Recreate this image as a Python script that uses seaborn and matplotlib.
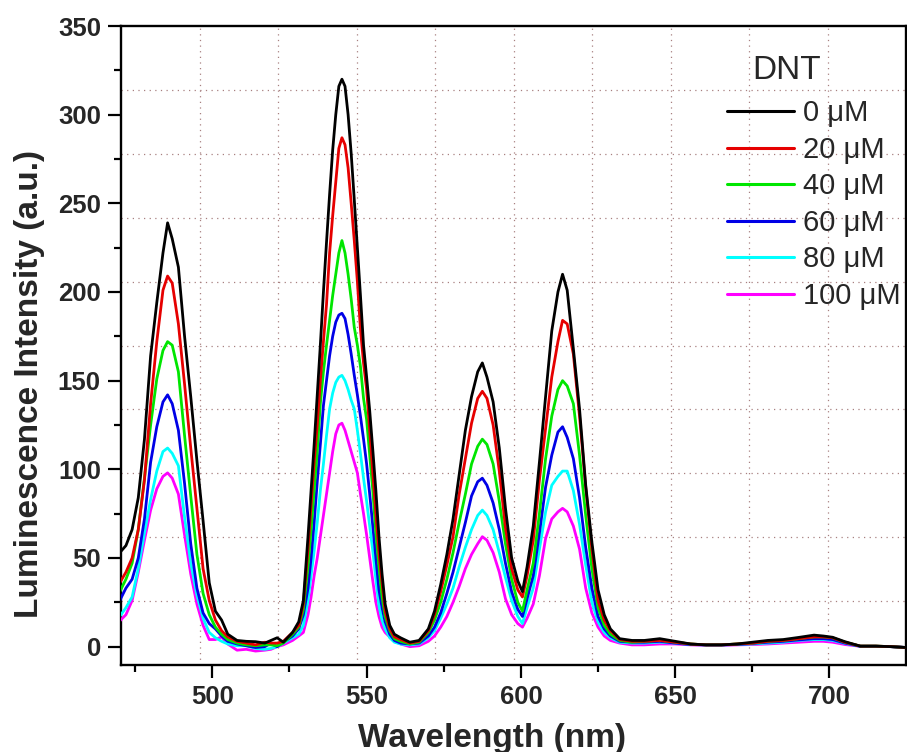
import numpy as np
import pandas as pd
import matplotlib
matplotlib.use("Agg")
import matplotlib.pyplot as plt
from matplotlib.ticker import MultipleLocator
import seaborn as sns

# ---------------- data ----------------
wavelength = [470, 472, 474, 476, 478, 480, 482, 484, 485.5, 487, 489, 491, 493, 495, 497, 499, 501, 503, 505, 508,
              511, 514, 517, 519, 521, 523, 526, 528,
              529.5, 531, 532, 533, 534, 535, 536, 537, 538, 539, 540, 541, 542, 543, 544, 545, 546, 547, 548, 549,
              550, 551, 552, 553, 554, 555, 556,
              557.5, 559, 561, 564, 567,
              570, 572, 574, 576, 578, 580, 582, 584, 586, 587.5, 589, 591, 593, 595, 597, 599,
              600.5, 602, 604, 606, 608, 610, 612, 613.5, 615, 617, 619, 621, 623, 625, 627, 629,
              632, 636, 640, 645, 650, 655, 660, 665, 670, 675, 680, 685, 690, 695, 698, 701, 705, 710, 715, 720, 725]

dnt_0 = [53, 57, 66, 84, 117, 164, 194, 222, 239, 230, 214, 175, 141, 105, 71, 36, 20, 15, 7, 3.5,
         3, 2.8, 2, 3.5, 5, 2.5, 8, 14,
         26, 62, 88, 114, 142, 170, 200, 228, 255, 280, 300, 316, 320, 316, 300, 278, 252, 225, 198, 170,
         152, 133, 111, 88, 62, 41, 24,
         12, 7, 5, 2.5, 3.5,
         10, 20, 35, 52, 72, 97, 122, 141, 155, 160, 152, 138, 112, 78, 50, 37,
         31, 45, 68, 104, 141, 178, 200, 210, 201, 168, 134, 91, 59, 32, 18, 10,
         4.5, 3.5, 3.5, 4.5, 3, 1.5, 1, 1, 1.5, 2.5, 3.5, 4, 5.2, 6.5, 6, 5.3, 2.8, 0.3, 0.3, 0, -0.5]

dnt_20 = [36, 42, 50, 66, 94, 137, 172, 201, 209, 205, 182, 148, 112, 78, 44, 26, 15, 9, 5.5, 3,
          2, 1, 2.5, 2, 2, 3, 8, 12,
          24, 55, 80, 104, 125, 150, 172, 193, 222, 243, 262, 281, 287, 283, 270, 250, 229, 206, 179, 160,
          145, 122, 98, 75, 53, 36, 20,
          10, 5.5, 4, 2, 3,
          9, 18, 31, 46, 62, 86, 106, 126, 140, 144, 140, 125, 99, 67, 44, 32,
          28, 40, 60, 94, 123, 152, 172, 184, 182, 165, 130, 90, 55, 26, 15, 9,
          4, 3, 3, 3.5, 2.5, 1.5, 1, 1, 1.5, 2, 3, 3.5, 4.5, 5.5, 5.5, 5, 2.5, 0.3, 0.3, 0, -0.5]

dnt_40 = [31, 38, 47, 66, 95, 125, 151, 167, 172, 170, 155, 119, 85, 52, 30, 18, 11, 7, 4, 2,
          1, 0.5, 1, 1, 0.5, 2, 7, 11,
          21, 45, 66, 88, 110, 137, 155, 170, 184, 198, 210, 222, 229, 222, 210, 196, 180, 170, 158, 140,
          128, 108, 88, 64, 45, 28, 17,
          9, 4.5, 3, 1.5, 2.5,
          8, 15, 25, 38, 53, 70, 86, 103, 113, 117, 114, 103, 82, 58, 38, 25,
          20, 32, 47, 75, 106, 130, 145, 150, 147, 137, 108, 74, 44, 22, 12, 7,
          3.5, 2.5, 3, 3.5, 2.5, 1.5, 1, 1, 1.5, 2, 3, 3.5, 4.5, 5.5, 5.5, 5, 2.5, 0.3, 0.3, 0, -0.5]

dnt_60 = [26, 33, 38, 50, 72, 104, 124, 138, 142, 137, 122, 92, 58, 33, 19, 13, 10, 6, 3, 1.5,
          0.5, -0.5, 0, 2, 0, 2.5, 6, 10,
          18, 33, 50, 70, 93, 114, 136, 150, 164, 175, 183, 187, 188, 185, 176, 165, 153, 142, 130, 117,
          103, 86, 68, 50, 32, 22, 14,
          7, 3.5, 2, 1.5, 2,
          6, 11, 19, 30, 42, 56, 70, 85, 93, 95, 91, 81, 66, 47, 31, 21,
          17, 27, 40, 64, 90, 108, 121, 124, 118, 106, 84, 56, 33, 17, 10, 6,
          3, 2.5, 2.5, 3, 2, 1.2, 1, 1, 1.2, 1.8, 2.5, 3, 3.8, 4.5, 4.5, 4, 2, 0.2, 0.2, 0, -0.5]

dnt_80 = [17, 22, 28, 44, 64, 83, 99, 110, 112, 109, 102, 73, 47, 29, 16, 8, 5, 3, 1.5, 0.5,
          0.5, -1, -1.5, -1, 0, 2, 5, 7,
          12, 26, 40, 54, 70, 88, 103, 119, 134, 143, 149, 152, 153, 150, 145, 139, 134, 122, 109, 95,
          82, 68, 54, 38, 23, 15, 10,
          5, 2.5, 1.5, 1, 1.5,
          5, 9, 16, 24, 33, 45, 56, 66, 74, 77, 74, 66, 53, 39, 26, 17,
          13, 22, 33, 55, 76, 91, 96, 99, 99, 88, 69, 46, 25, 14, 8, 5,
          2.5, 2, 2, 2.5, 2, 1.2, 1, 1, 1.2, 1.5, 2, 2.5, 3.5, 4, 4, 3.5, 1.8, 0.2, 0.2, 0, -0.5]

dnt_100 = [14.5, 18, 26, 42, 60, 77, 89, 96, 98, 95, 86, 63, 41, 24, 12, 4, 4, 5.5, 1.5, -2,
           -1.5, -2.5, -2, -1.5, 0, 1, 3.5, 6,
           8, 18, 28, 40, 50, 62, 74, 86, 98, 110, 120, 125, 126, 122, 116, 110, 104, 98, 86, 75,
           63, 50, 37, 25, 17, 11, 8,
           5.5, 3, 1.5, 0, 0.5,
           3, 6, 11, 17, 25, 34, 44, 52, 58, 62, 60, 53, 42, 27, 18, 13,
           11, 16, 24, 40, 61, 72, 76, 78, 76, 68, 55, 33, 19, 11, 6, 3.5,
           2, 1, 1, 1.5, 1.5, 1, 0.8, 0.8, 1, 1.2, 1.5, 2, 2.5, 3, 3, 2.5, 1.2, 0.2, 0.2, 0, -0.5]

series_labels = ["0 \u03bcM", "20 \u03bcM", "40 \u03bcM", "60 \u03bcM", "80 \u03bcM", "100 \u03bcM"]
series_values = [dnt_0, dnt_20, dnt_40, dnt_60, dnt_80, dnt_100]
series_colors = ["#000000", "#e60000", "#00e600", "#0000e6", "#00ffff", "#ff00ff"]

x_ticks = [500, 550, 600, 650, 700]
y_ticks = [0, 50, 100, 150, 200, 250, 300, 350]

# ---------------- build table ----------------
df = pd.concat(
    [pd.DataFrame({"Wavelength": wavelength, "Intensity": vals, "DNT": lab})
     for lab, vals in zip(series_labels, series_values)],
    ignore_index=True,
)

sns.set_style("white")
plt.rcParams["font.family"] = ["Liberation Sans", "DejaVu Sans"]

W, H = 907, 752
fig = plt.figure(figsize=(W / 100, H / 100), dpi=100)
pos = [121 / W, 87 / H, 785 / W, 639 / H]

# background 10x10 dotted grid (independent of the data ticks)
gax = fig.add_axes(pos, zorder=0)
gax.set_xlim(0, 1)
gax.set_ylim(0, 1)
gax.set_xticks(np.arange(1, 10) / 10)
gax.set_yticks(np.arange(1, 10) / 10)
gax.grid(True, color="#a88080", linestyle=(0, (1, 3.5)), linewidth=0.9)
gax.tick_params(length=0, labelbottom=False, labelleft=False)
for s in gax.spines.values():
    s.set_visible(False)

ax = fig.add_axes(pos, zorder=1)
ax.patch.set_alpha(0)

sns.lineplot(data=df, x="Wavelength", y="Intensity", hue="DNT", hue_order=series_labels,
             palette=series_colors, linewidth=2.0, estimator=None, sort=False, ax=ax)

n = len(ax.lines)
for i, ln in enumerate(ax.lines):
    ln.set_zorder(10 + n - i)
    ln.set_solid_joinstyle("round")

ax.set_xlim(470.4, 724.8)
ax.set_ylim(-10.35, 350)
ax.set_xticks(x_ticks)
ax.set_yticks(y_ticks)
ax.xaxis.set_minor_locator(MultipleLocator(25))
ax.yaxis.set_minor_locator(MultipleLocator(25))

for s in ax.spines.values():
    s.set_visible(True)
    s.set_linewidth(1.7)
    s.set_color("black")

ax.tick_params(which="major", direction="out", length=9.5, width=1.6, labelsize=18.5,
               bottom=True, left=True, top=False, right=False, color="black")
ax.tick_params(which="minor", direction="out", length=5, width=1.6,
               bottom=True, left=True, top=False, right=False, color="black")
ax.tick_params(axis="x", which="major", pad=5)
ax.tick_params(axis="y", which="major", pad=5)
for lbl in ax.get_xticklabels() + ax.get_yticklabels():
    lbl.set_fontweight("bold")

ax.set_xlabel("Wavelength (nm)", fontsize=24, fontweight="bold")
ax.xaxis.set_label_coords(0.472, -0.128)
ax.xaxis.label.set_va("baseline")
ax.set_ylabel("Luminescence Intensity (a.u.)", fontsize=24, fontweight="bold")
ax.yaxis.set_label_coords(-0.1057, 0.44)
ax.yaxis.label.set_va("baseline")

sns.move_legend(ax, "upper left", bbox_to_anchor=((727 - 121) / 785, (665 - 60) / 639),
                title="DNT", frameon=False, fontsize=21, title_fontsize=24,
                handlelength=2.3, handletextpad=0.3, labelspacing=0.29,
                borderpad=0, borderaxespad=0, alignment="left")
leg = ax.get_legend()
for h in leg.legend_handles:
    h.set_linewidth(2.2)
leg.get_title().set_position((25, 5))

fig.savefig("out.png", dpi=100)
